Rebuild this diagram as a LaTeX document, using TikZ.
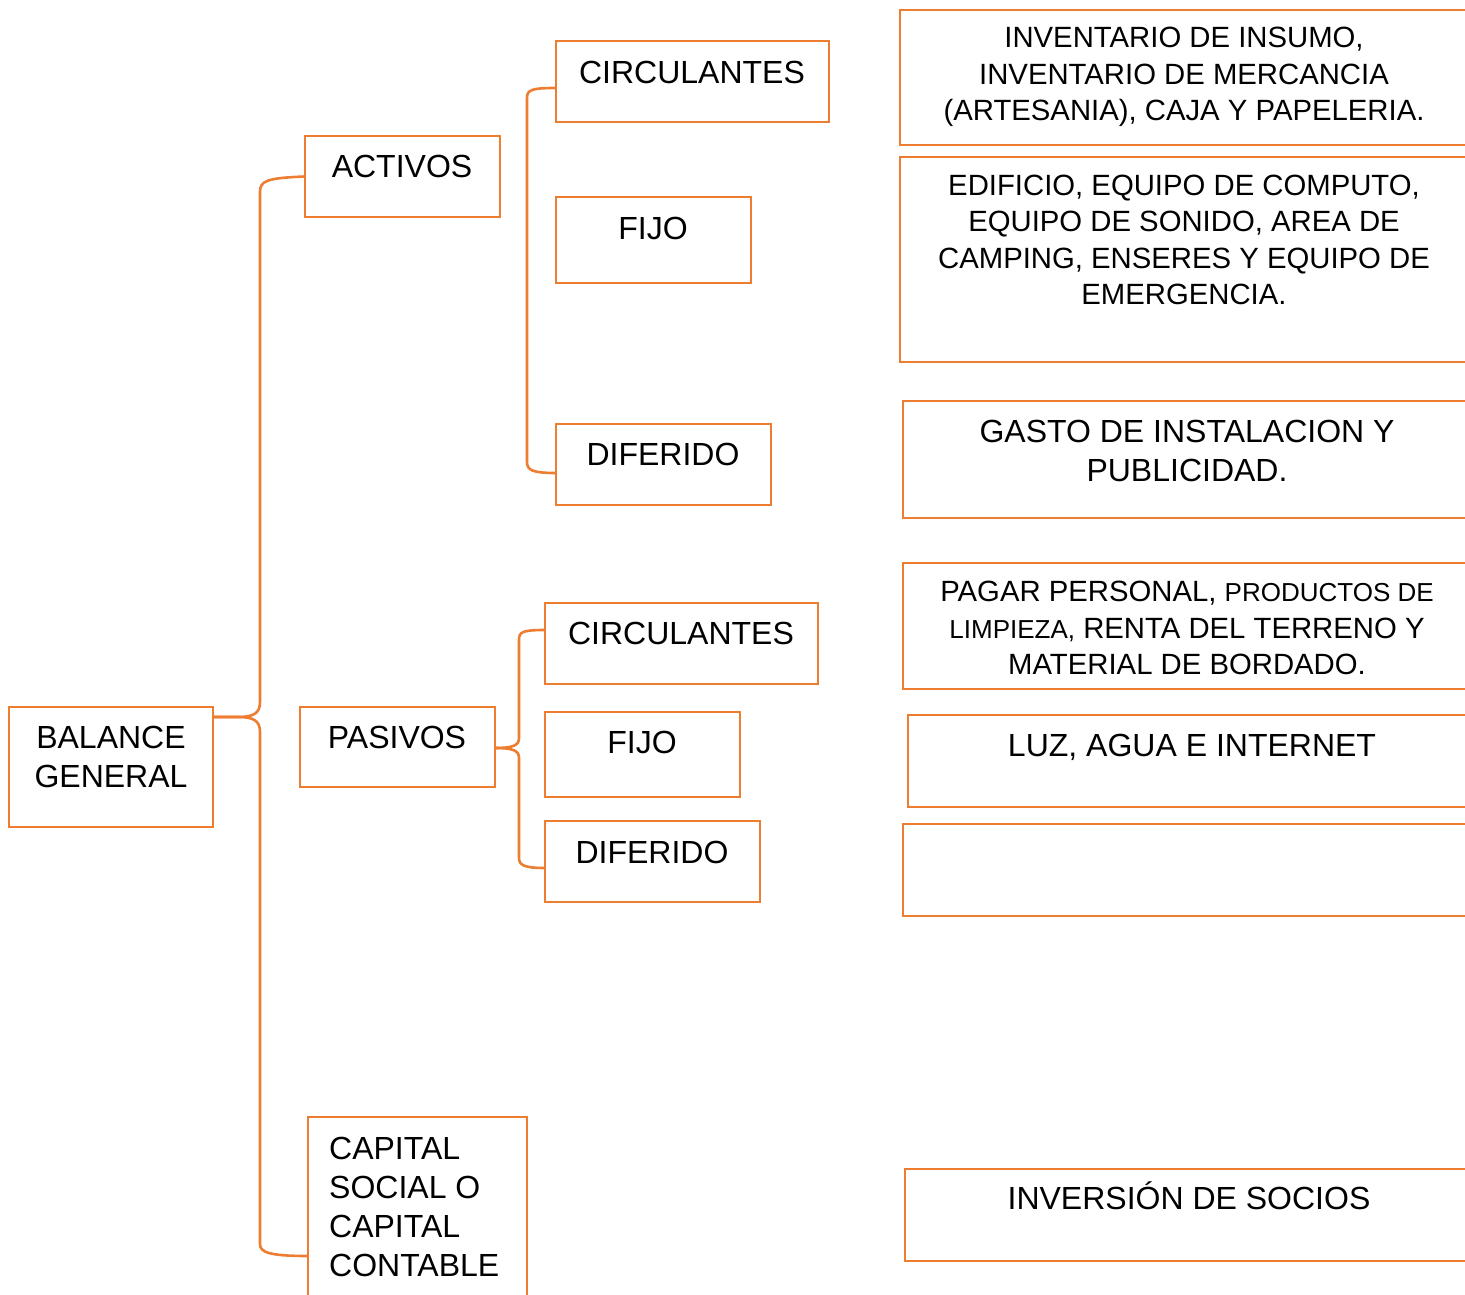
\documentclass[tikz,border=0pt]{standalone}
\usepackage{fontspec}
\setmainfont{Liberation Sans}
\usetikzlibrary{calc}
\definecolor{org}{HTML}{ED7D31}
\begin{document}
\begin{tikzpicture}[x=1pt,y=-1pt,
 box/.style={draw=org,line width=2.6pt,rectangle,inner sep=0pt,outer sep=0pt,anchor=north west},
 conn/.style={draw=org,line width=2.6pt},
 big/.style={font=\fontsize{32}{39.3}\selectfont,align=center,inner sep=0pt},
 mid/.style={font=\fontsize{29.3}{36.5}\selectfont,align=center,inner sep=0pt}]
\useasboundingbox (0,0) rectangle (1465,1295);
\clip (0,0) rectangle (1465,1295);
% boxes
\node[box,minimum width=204pt,minimum height=120pt] (bal) at (9,707) {};
\node[box,minimum width=195pt,minimum height=81pt] (act) at (305,136) {};
\node[box,minimum width=195pt,minimum height=80pt] (pas) at (300,707) {};
\node[box,minimum width=219pt,minimum height=200pt] (cap) at (308,1117) {};
\node[box,minimum width=273pt,minimum height=81pt] (ac) at (556,41) {};
\node[box,minimum width=195pt,minimum height=86pt] (af) at (556,197) {};
\node[box,minimum width=215pt,minimum height=81pt] (ad) at (556,424) {};
\node[box,minimum width=273pt,minimum height=81pt] (pc) at (545,603) {};
\node[box,minimum width=195pt,minimum height=85pt] (pf) at (545,712) {};
\node[box,minimum width=215pt,minimum height=81pt] (pd) at (545,821) {};
\node[box,minimum width=600pt,minimum height=135pt] (r1) at (900,10) {};
\node[box,minimum width=600pt,minimum height=205pt] (r2) at (900,157) {};
\node[box,minimum width=600pt,minimum height=117pt] (r3) at (903,401) {};
\node[box,minimum width=600pt,minimum height=126pt] (r4) at (903,563) {};
\node[box,minimum width=600pt,minimum height=92pt] (r5) at (908,715) {};
\node[box,minimum width=600pt,minimum height=92pt] (r6) at (903,824) {};
\node[box,minimum width=600pt,minimum height=92pt] (r7) at (905,1169) {};
% texts
\node[big] (tbal) at (111,757) {BALANCE\\GENERAL};
\node[big] (tact) at (402,166) {ACTIVOS};
\node[big] (tpas) at (397,737) {PASIVOS};
\node[big,align=left,anchor=west] (tcap) at (329,1207) {CAPITAL\\SOCIAL O\\CAPITAL\\CONTABLE};
\node[big] (tac) at (692,72) {CIRCULANTES};
\node[big] (taf) at (653,228) {FIJO};
\node[big] (tad) at (663,454) {DIFERIDO};
\node[big] (tpc) at (681,633) {CIRCULANTES};
\node[big] (tpf) at (642,742) {FIJO};
\node[big] (tpd) at (652,852) {DIFERIDO};
\node[mid] (tr1) at (1184,77) {INVENTARIO DE INSUMO,\\INVENTARIO DE MERCANCIA\\(ARTESANIA), CAJA Y PAPELERIA.};
\node[mid] (tr2) at (1184,240) {EDIFICIO, EQUIPO DE COMPUTO,\\EQUIPO DE SONIDO, AREA DE\\CAMPING, ENSERES Y EQUIPO DE\\EMERGENCIA.};
\node[big] (tr3) at (1187,451) {GASTO DE INSTALACION Y\\PUBLICIDAD.};
\node[mid] (tr4) at (1187,628) {PAGAR PERSONAL, {\fontsize{26}{36.5}\selectfont PRODUCTOS DE}\\{\fontsize{26}{36.5}\selectfont LIMPIEZA,} RENTA DEL TERRENO Y\\MATERIAL DE BORDADO.};
\node[big,text height=23pt,text depth=0pt] (tr5) at (1192,745) {LUZ, AGUA E INTERNET};
\node[big,text height=23pt,text depth=0pt] (tr7) at (1189,1198) {INVERSIÓN DE SOCIOS};
% connector anchor points
\coordinate (bt) at ($(bal.north east)+(0,10)$);
\coordinate (capw) at ($(cap.north west)+(0,139)$);
\coordinate (acw) at ($(ac.north west)+(0,47)$);
\coordinate (adw) at ($(ad.north west)+(0,49)$);
\coordinate (pt) at ($(pas.north east)+(0,41)$);
\coordinate (pcw) at ($(pc.north west)+(0,27)$);
\coordinate (pdw) at ($(pd.north west)+(0,47)$);
% main brace
\draw[conn] (act.west) .. controls (266,178) and (260,181) .. (260,192) -- (260,702)
  .. controls (260,713) and (254,717) .. (238,717) -- (bt);
\draw[conn] (bt) -- (238,717) .. controls (254,717) and (260,721) .. (260,732) -- (260,1244)
  .. controls (260,1252) and (268,1256) .. (capw);
% activos brace
\draw[conn] (acw) .. controls (531,88) and (527,90) .. (527,98) -- (527,462)
  .. controls (527,470) and (532,473) .. (adw);
% pasivos brace
\draw[conn] (pcw) .. controls (522,630) and (519,632) .. (519,640) -- (519,738)
  .. controls (519,745) and (514,748) .. (pt);
\draw[conn] (pt) .. controls (514,748) and (519,751) .. (519,758) -- (519,858)
  .. controls (519,865) and (524,868) .. (pdw);
\end{tikzpicture}
\end{document}
